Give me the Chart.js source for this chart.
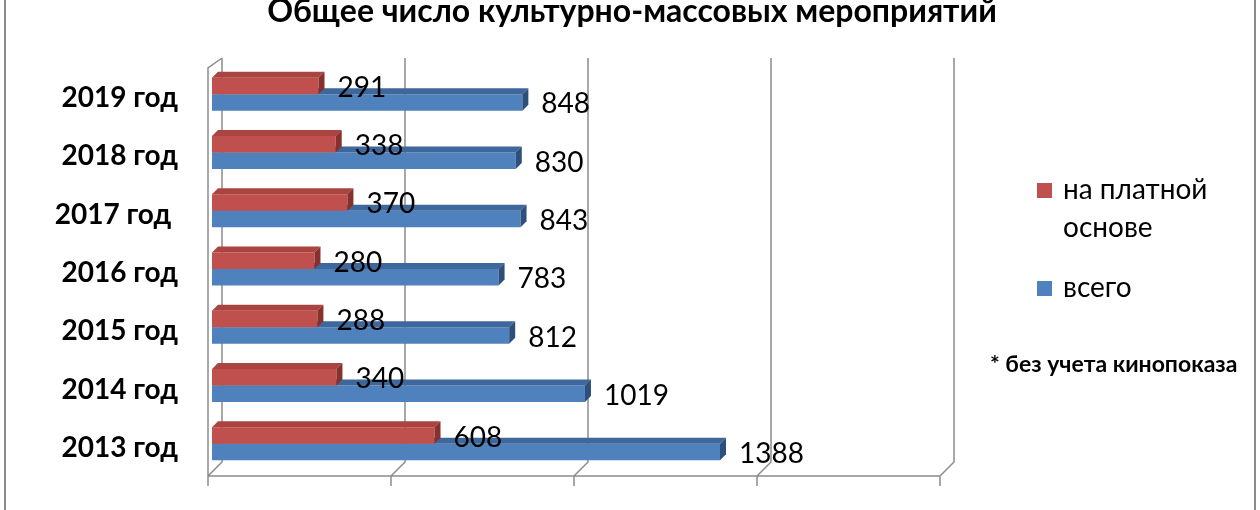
<!DOCTYPE html>
<html>
<head>
<meta charset="utf-8">
<script src="https://cdn.jsdelivr.net/npm/chart.js@4.4.1/dist/chart.umd.min.js"></script>
<style>
html, body { margin: 0; padding: 0; background: #fff; }
#wrap { width: 1260px; height: 510px; position: relative; }
</style>
</head>
<body>
<div id="wrap"><canvas id="barChart" width="1260" height="510"></canvas></div>
<script>
const years = ['2019 год', '2018 год', '2017 год ', '2016 год', '2015 год', '2014 год', '2013 год'];
const paid = [291, 338, 370, 280, 288, 340, 608];
const total = [848, 830, 843, 783, 812, 1019, 1388];
const seriesNames = ['на платной основе', 'всего'];
const xTicks = [0, 500, 1000, 1500, 2000];
const chartTitle = 'Общее число культурно-массовых мероприятий';
const footNote = '* без учета кинопоказа';

Chart.defaults.font.family = 'Lato';
Chart.defaults.color = '#000';

const depth = 6;
const gridColor = '#8c8c8c';
const faces = [
    {front: '#c0504d', top: '#a94441', side: '#86312e'},
    {front: '#4f81bd', top: '#3e679b', side: '#2c4f7c'}
];

// back wall grid + floor, excel 3d style
const walls = {
    id: 'walls',
    beforeDatasetsDraw(chart) {
        const ctx = chart.ctx;
        const a = chart.chartArea;
        const xs = chart.scales.x;
        const back = 10, front = -4;
        const floorBack = a.bottom - 11, floorFront = a.bottom + 3;
        ctx.save();
        ctx.strokeStyle = gridColor;
        ctx.lineWidth = 1.5;
        ctx.beginPath();
        xTicks.forEach(v => {
            const px = xs.getPixelForValue(v);
            ctx.moveTo(px + back, a.top - 7);
            ctx.lineTo(px + back, floorBack);
            ctx.lineTo(px + front, floorFront);
            ctx.lineTo(px + front, floorFront + 10);
        });
        const x0 = xs.getPixelForValue(xTicks[0]);
        const x1 = xs.getPixelForValue(xTicks[xTicks.length - 1]);
        ctx.moveTo(x0 + front, floorFront);
        ctx.lineTo(x1 + front, floorFront);
        // wall thickness on the left
        ctx.moveTo(x0 + back, a.top - 7);
        ctx.lineTo(x0 + front, a.top + 3);
        ctx.lineTo(x0 + front, floorFront);
        ctx.stroke();
        ctx.restore();
    }
};

// fake excel 3d: top + right faces on every bar
const bar3d = {
    id: 'bar3d',
    afterDatasetDraw(chart, args) {
        const ctx = chart.ctx;
        const c = faces[args.index];
        ctx.save();
        args.meta.data.forEach(bar => {
            const p = bar.getProps(['x', 'y', 'base', 'height'], true);
            const top = p.y - p.height / 2;
            const bottom = p.y + p.height / 2;
            ctx.fillStyle = c.top;
            ctx.beginPath();
            ctx.moveTo(p.base, top);
            ctx.lineTo(p.base + depth, top - depth);
            ctx.lineTo(p.x + depth, top - depth);
            ctx.lineTo(p.x, top);
            ctx.closePath();
            ctx.fill();
            ctx.fillStyle = c.side;
            ctx.beginPath();
            ctx.moveTo(p.x, top);
            ctx.lineTo(p.x + depth, top - depth);
            ctx.lineTo(p.x + depth, bottom - depth);
            ctx.lineTo(p.x, bottom);
            ctx.closePath();
            ctx.fill();
        });
        ctx.restore();
    }
};

const valueLabels = {
    id: 'valueLabels',
    afterDatasetsDraw(chart) {
        const ctx = chart.ctx;
        ctx.save();
        ctx.font = '28px Lato';
        ctx.fillStyle = '#000';
        ctx.textBaseline = 'middle';
        ctx.textAlign = 'left';
        chart.data.datasets.forEach((ds, i) => {
            chart.getDatasetMeta(i).data.forEach((bar, j) => {
                ctx.fillText(ds.data[j], bar.x + depth + 13, bar.y + 2);
            });
        });
        ctx.restore();
    }
};

function wrapText(ctx, text, maxW) {
    const words = text.split(' ');
    const lines = [];
    let line = '';
    words.forEach(w => {
        const test = line ? line + ' ' + w : w;
        if (ctx.measureText(test).width > maxW && line) {
            lines.push(line);
            line = w;
        } else {
            line = test;
        }
    });
    lines.push(line);
    return lines;
}

// title, frame, legend on the right and the footnote
const decor = {
    id: 'decor',
    beforeDraw(chart) {
        const ctx = chart.ctx;
        ctx.save();
        ctx.fillStyle = '#fff';
        ctx.fillRect(0, 0, chart.width, chart.height);
        ctx.strokeStyle = gridColor;
        ctx.lineWidth = 2;
        ctx.beginPath();
        ctx.moveTo(5, 0); ctx.lineTo(5, chart.height);
        ctx.moveTo(chart.width - 5, 0); ctx.lineTo(chart.width - 5, chart.height);
        ctx.stroke();
        ctx.restore();
    },
    afterDraw(chart) {
        const ctx = chart.ctx;
        ctx.save();
        ctx.fillStyle = '#000';
        ctx.font = 'bold 32px Lato';
        ctx.textAlign = 'center';
        ctx.textBaseline = 'alphabetic';
        ctx.fillText(chartTitle, 632, 22);

        ctx.font = '28px Lato';
        ctx.textAlign = 'left';
        ctx.textBaseline = 'middle';
        let y = 190;
        chart.data.datasets.forEach((ds, i) => {
            ctx.fillStyle = ds.backgroundColor;
            ctx.fillRect(1037, y - 7, 15, 15);
            ctx.fillStyle = '#000';
            const lines = wrapText(ctx, ds.label, 170);
            lines.forEach((l, k) => ctx.fillText(l, 1063, y + k * 38));
            y += lines.length * 38 + 22;
        });

        ctx.font = 'bold 23px Lato';
        ctx.fillText(footNote, 990, 365);
        ctx.restore();
    }
};

const ctx = document.getElementById('barChart');
new Chart(ctx, {
    type: 'bar',
    data: {
        labels: years,
        datasets: [{
            label: seriesNames[0],
            data: paid,
            backgroundColor: faces[0].front,
            categoryPercentage: 0.566,
            barPercentage: 1.0
        }, {
            label: seriesNames[1],
            data: total,
            backgroundColor: faces[1].front,
            categoryPercentage: 0.566,
            barPercentage: 1.0
        }]
    },
    options: {
        indexAxis: 'y',
        responsive: false,
        animation: false,
        devicePixelRatio: 1,
        layout: {
            padding: {top: 65, right: 316, bottom: 37, left: 0}
        },
        scales: {
            x: {
                min: xTicks[0],
                max: xTicks[xTicks.length - 1],
                afterFit: scale => { scale.height = 0; },
                ticks: {display: false},
                grid: {display: false},
                border: {display: false}
            },
            y: {
                afterFit: scale => {
                    scale.width = 212;
                    scale.paddingTop = 0;
                    scale.paddingBottom = 0;
                },
                grid: {display: false, drawTicks: false},
                border: {display: false},
                ticks: {
                    padding: 34,
                    labelOffset: 4,
                    font: {size: 28, weight: 'bold'}
                }
            }
        },
        plugins: {
            legend: {display: false},
            tooltip: {enabled: false}
        }
    },
    plugins: [walls, bar3d, valueLabels, decor]
});
</script>
</body>
</html>
